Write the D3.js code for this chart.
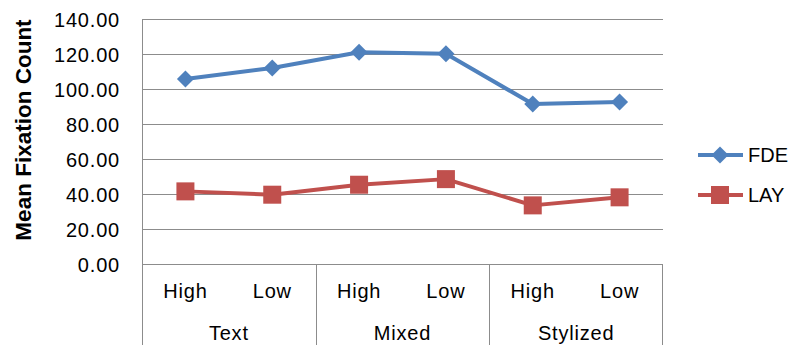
<!DOCTYPE html>
<meta charset="utf-8">
<style>
body { margin: 0; background: #fff; }
text { font-family: "Liberation Sans", Arial, sans-serif; fill: #000; }
.grid line { stroke: #8c8c8c; stroke-width: 1px; }
.grid .domain { display: none; }
.tick text { font-size: 20px; letter-spacing: 0.8px; }
</style>
<svg width="794" height="345"></svg>
<script src="https://d3js.org/d3.v7.min.js"></script>
<script>

var groups = ["Text", "Mixed", "Stylized"];
var levels = ["High", "Low"];
var fde = [105.7, 112.0, 121.0, 120.2, 91.4, 92.6];
var lay = [41.5, 39.6, 45.3, 48.5, 33.5, 38.1];
var yTicks = [0, 20, 40, 60, 80, 100, 120, 140];

var series = [
  {name: "FDE", values: fde, color: "#4f81bd", marker: "diamond"},
  {name: "LAY", values: lay, color: "#c0504d", marker: "square"}
];

var svg = d3.select("svg"),
    margin = {left: 142, right: 131, top: 19, bottom: 81},
    width = 794 - margin.left - margin.right,
    height = 345 - margin.top - margin.bottom;

var g = svg.append("g").attr("transform", "translate(" + margin.left + "," + margin.top + ")");

var cats = [];
groups.forEach(function(gr) { levels.forEach(function(l) { cats.push(gr + "|" + l); }); });

var x = d3.scaleBand().domain(cats).range([0, width]);
var xg = d3.scaleBand().domain(groups).range([0, width]);
var y = d3.scaleLinear().domain([0, 140]).range([height, 0]);

// gridlines + tick labels
var yAxis = g.append("g")
    .attr("class", "grid")
    .call(d3.axisLeft(y).tickValues(yTicks).tickSize(-width).tickPadding(22).tickFormat(d3.format(".2f")));
yAxis.selectAll(".tick text").attr("dy", "0.36em");

// left axis line
g.append("line")
    .attr("x1", 0.5).attr("x2", 0.5)
    .attr("y1", 0).attr("y2", 345 - margin.top)
    .attr("stroke", "#8c8c8c");

// category separators
g.selectAll(".sep")
  .data(groups.slice(1).concat(["end"]))
  .enter().append("line")
    .attr("x1", function(d) { return d === "end" ? width - 0.5 : Math.round(xg(d)) + 0.5; })
    .attr("x2", function(d) { return d === "end" ? width - 0.5 : Math.round(xg(d)) + 0.5; })
    .attr("y1", height).attr("y2", 345 - margin.top)
    .attr("stroke", "#8c8c8c");

// level labels
g.selectAll(".lvl")
  .data(cats)
  .enter().append("text")
    .attr("x", function(d) { return x(d) + x.bandwidth() / 2; })
    .attr("y", height + 27)
    .attr("dy", "0.36em")
    .attr("text-anchor", "middle")
    .style("font-size", "20px")
    .style("letter-spacing", "0.8px")
    .text(function(d) { return d.split("|")[1]; });

// group labels
g.selectAll(".grp")
  .data(groups)
  .enter().append("text")
    .attr("x", function(d) { return xg(d) + xg.bandwidth() / 2; })
    .attr("y", height + 69)
    .attr("dy", "0.36em")
    .attr("text-anchor", "middle")
    .style("font-size", "20px")
    .style("letter-spacing", "0.8px")
    .text(function(d) { return d; });

// y title
svg.append("text")
    .attr("transform", "translate(23,130) rotate(-90)")
    .attr("dy", "0.36em")
    .attr("text-anchor", "middle")
    .style("font-size", "22.5px")
    .style("font-weight", "bold")
    .text("Mean Fixation Count");

var line = d3.line()
    .x(function(d, i) { return x(cats[i]) + x.bandwidth() / 2; })
    .y(function(d) { return y(d); });

function marker(sel, s) {
  if (s.marker === "diamond") {
    sel.append("path").attr("d", "M0,-8.5L8.5,0L0,8.5L-8.5,0Z").attr("fill", s.color);
  } else {
    sel.append("rect").attr("x", -9).attr("y", -9).attr("width", 18).attr("height", 18).attr("fill", s.color);
  }
}

series.forEach(function(s) {
  g.append("path")
      .datum(s.values)
      .attr("fill", "none")
      .attr("stroke", s.color)
      .attr("stroke-width", 4)
      .attr("stroke-linejoin", "round")
      .attr("d", line);
  g.selectAll(".pt-" + s.name)
    .data(s.values)
    .enter().append("g")
      .attr("transform", function(d, i) { return "translate(" + line.x()(d, i) + "," + y(d) + ")"; })
      .each(function() { marker(d3.select(this), s); });
});

// legend
var legend = svg.append("g");
series.forEach(function(s, i) {
  var lg = legend.append("g").attr("transform", "translate(698," + (155 + i * 40) + ")");
  lg.append("line").attr("x1", 0).attr("x2", 45).attr("stroke", s.color).attr("stroke-width", 4);
  marker(lg.append("g").attr("transform", "translate(22,0)"), s);
  lg.append("text").attr("x", 50).attr("dy", "0.36em").style("font-size", "20px").text(s.name);
});

</script>
